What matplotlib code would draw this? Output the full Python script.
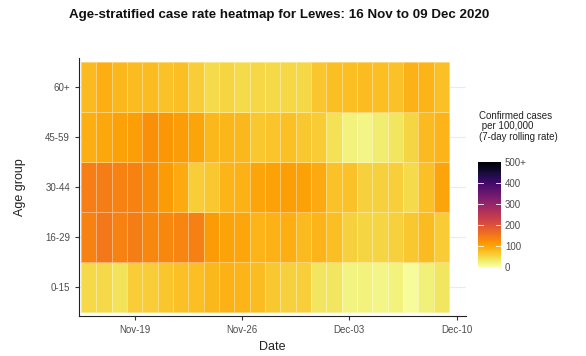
# Age-stratified case rate heatmap (Lewes, 16 Nov - 09 Dec 2020)
import numpy as np
import pandas as pd
import matplotlib
matplotlib.use("Agg")
import matplotlib.pyplot as plt
import matplotlib.dates as mdates

plt.rcParams['font.family'] = ['Liberation Sans', 'DejaVu Sans']

# Data: rows are age groups (bottom to top), columns are days
age_groups = ["0-15", "16-29", "30-44", "45-59", "60+"]
start_date = "2020-11-16"
end_date = "2020-12-09"

rate_0_15 = [48, 48, 38, 60, 60, 67, 74, 76, 82, 86, 84, 78,
             66, 56, 58, 35, 35, 18, 20, 16, 20, 6, 22, 34]
rate_16_29 = [138, 150, 138, 144, 132, 132, 134, 140, 110, 102, 98, 85,
              86, 90, 80, 84, 75, 55, 52, 52, 55, 66, 77, 62]
rate_30_44 = [142, 144, 138, 138, 128, 110, 95, 60, 65, 85, 86, 100,
              104, 106, 104, 95, 72, 72, 55, 55, 58, 45, 74, 100]
rate_45_59 = [90, 96, 104, 106, 122, 115, 108, 100, 81, 83, 81, 66,
              70, 73, 66, 62, 40, 20, 16, 27, 34, 52, 80, 84]
rate_60_plus = [80, 90, 81, 78, 78, 72, 76, 60, 45, 52, 45, 50,
                48, 50, 50, 68, 75, 75, 77, 75, 72, 87, 85, 74]

tick_dates = ["2020-11-19", "2020-11-26", "2020-12-03", "2020-12-10"]
tick_labels = ["Nov-19", "Nov-26", "Dec-03", "Dec-10"]
cbar_ticks = [0, 100, 200, 300, 400, 500]
cbar_labels = ["0", "100", "200", "300", "400", "500+"]

rates = np.array([rate_0_15, rate_16_29, rate_30_44, rate_45_59, rate_60_plus])
days = pd.date_range(start_date, end_date)
day_nums = mdates.date2num(days)
x_edges = np.append(day_nums - 0.5, day_nums[-1] + 0.5)
y_edges = np.arange(len(age_groups) + 1) - 0.5

fig = plt.figure(figsize=(5.86, 3.56), dpi=100)
ax = fig.add_axes([0.1348, 0.1124, 0.6602, 0.7247])

# light horizontal grid, under the tiles
for i in range(len(age_groups)):
    ax.axhline(i, color="#ebebeb", linewidth=0.8, zorder=0)

mesh = ax.pcolormesh(x_edges, y_edges, rates, cmap="inferno_r", vmin=0, vmax=500,
                     edgecolors=(1, 1, 1, 0.4), linewidth=0.5, zorder=1)

ax.set_xlim(day_nums[0] - 0.62, day_nums[0] + 24.6)
ax.set_ylim(-0.58, len(age_groups) - 0.42)

ax.set_yticks(range(len(age_groups)))
ax.set_yticklabels(age_groups)
ax.set_xticks(mdates.date2num(pd.to_datetime(tick_dates)))
ax.set_xticklabels(tick_labels)

for side in ["top", "right"]:
    ax.spines[side].set_visible(False)
for side in ["left", "bottom"]:
    ax.spines[side].set_color("#222222")
    ax.spines[side].set_linewidth(0.8)
ax.tick_params(axis="both", labelsize=7, colors="#333333", length=3, width=0.8,
               labelcolor="#4d4d4d")

ax.set_xlabel("Date", fontsize=9, color="#222222", labelpad=4)
ax.set_ylabel("Age group", fontsize=9, color="#222222", labelpad=14)

fig.text(0.476, 0.958, "Age-stratified case rate heatmap for Lewes: 16 Nov to 09 Dec 2020",
         ha="center", va="center", fontsize=9.6, fontweight="bold", color="#111111")

# colour legend
cax = fig.add_axes([0.8157, 0.25, 0.039, 0.295])
cb = fig.colorbar(mesh, cax=cax, ticks=cbar_ticks)
cb.set_ticklabels(cbar_labels)
cb.outline.set_visible(False)
cax.tick_params(labelsize=7, length=0, labelcolor="#4d4d4d", pad=3)
for t in cbar_ticks[1:-1]:
    cax.axhline(t, xmin=0, xmax=0.2, color="white", linewidth=0.6)
    cax.axhline(t, xmin=0.8, xmax=1, color="white", linewidth=0.6)
fig.text(0.817, 0.645, "Confirmed cases\n per 100,000\n(7-day rolling rate)",
         ha="left", va="center", fontsize=7, color="#222222", linespacing=1.1)

fig.savefig("out.png", dpi=100)
